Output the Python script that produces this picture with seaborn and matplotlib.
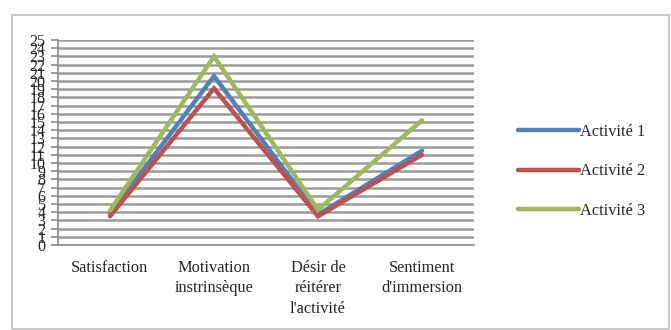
import matplotlib
matplotlib.use("Agg")
import matplotlib.pyplot as plt
from matplotlib.patches import Rectangle
from matplotlib.ticker import FixedLocator
import seaborn as sns
import pandas as pd

# Categories (x axis) and scores for each activity
categories = ["Satisfaction", "Motivation\ninstrinsèque",
              "Désir de\nréitérer\nl'activité", "Sentiment\nd'immersion"]
activite_1 = [3.8, 20.6, 3.7, 11.5]
activite_2 = [3.5, 19.1, 3.5, 11.0]
activite_3 = [4.2, 23.0, 4.3, 15.2]
series_names = ["Activité 1", "Activité 2", "Activité 3"]
colors = ["#4F81BD", "#C0504D", "#9BBB59"]
y_ticks = list(range(0, 26))

rows = []
for name, vals in zip(series_names, [activite_1, activite_2, activite_3]):
    for cat, v in zip(categories, vals):
        rows.append({"Catégorie": cat, "Score": v, "Série": name})
df = pd.DataFrame(rows)

sns.set_style("white")
plt.rcParams["font.family"] = ["Liberation Serif", "DejaVu Serif"]

fig = plt.figure(figsize=(6.71, 3.30), dpi=100)
W, H = 671, 330
ax = fig.add_axes([58 / W, 1 - 245 / H, (474 - 58) / W, (245 - 40) / H])

sns.lineplot(data=df, x="Catégorie", y="Score", hue="Série", palette=colors,
             linewidth=3.2, sort=False, ax=ax, legend=True,
             solid_capstyle="round", solid_joinstyle="miter")

ax.set_xlim(-0.5, 3.5)
ax.set_ylim(0, 25)
ax.set_yticks(y_ticks)
ax.set_yticklabels([str(v) for v in y_ticks], fontsize=11.5)
ax.grid(axis="y", color="#9A9A9A", linewidth=1.8)
ax.set_axisbelow(True)

# category boundaries carry the x tick marks, labels sit at the centers
ax.set_xticks(range(len(categories)))
ax.set_xticklabels(categories, fontsize=11.8, linespacing=1.35)
ax.xaxis.set_minor_locator(FixedLocator([-0.5, 0.5, 1.5, 2.5, 3.5]))
ax.tick_params(axis="x", which="major", length=0, pad=11)
ax.tick_params(axis="x", which="minor", length=5, width=1.2, color="#8C8C8C", direction="out")
ax.tick_params(axis="y", which="major", length=5, width=1.2, color="#8C8C8C",
               direction="out", pad=4, left=True)

for side in ["top", "right"]:
    ax.spines[side].set_visible(False)
for side in ["left", "bottom"]:
    ax.spines[side].set_color("#8C8C8C")
    ax.spines[side].set_linewidth(1.2)

ax.set_xlabel("")
ax.set_ylabel("")

leg = ax.legend(loc="upper left", bbox_to_anchor=(518 / W, 1 - 124 / H),
                bbox_transform=fig.transFigure, frameon=False, fontsize=11.8,
                handlelength=3.7, handletextpad=0.1, labelspacing=1.42,
                borderaxespad=0, borderpad=0)
for line in leg.get_lines():
    line.set_linewidth(3.2)
    line.set_solid_capstyle("round")

# outer chart border
fig.patches.append(Rectangle((12 / W, 1 / H), (669 - 12) / W, (315 - 1) / H,
                             transform=fig.transFigure, fill=False,
                             edgecolor="#BFBFBF", linewidth=1.2))

fig.savefig("out.png", dpi=100)
